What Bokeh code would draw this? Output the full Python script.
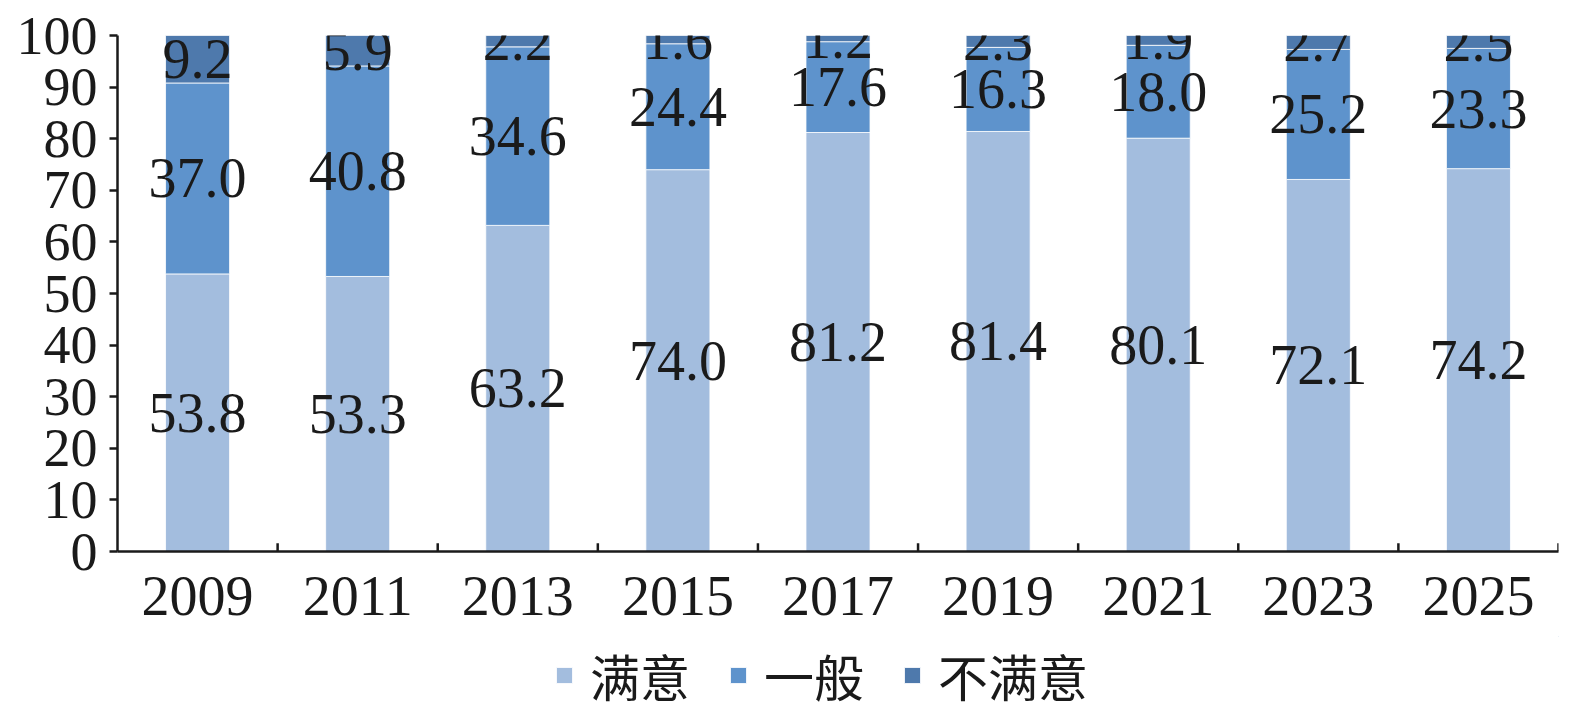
from bokeh.plotting import figure
from bokeh.layouts import column
from bokeh.models import ColumnDataSource, FactorRange, Range1d, Legend, LegendItem, FixedTicker
from bokeh.core.properties import value
from bokeh.embed import file_html
from bokeh.resources import INLINE

years = ['2009', '2011', '2013', '2015', '2017', '2019', '2021', '2023', '2025']
satisfied = [53.8, 53.3, 63.2, 74.0, 81.2, 81.4, 80.1, 72.1, 74.2]
neutral = [37.0, 40.8, 34.6, 24.4, 17.6, 16.3, 18.0, 25.2, 23.3]
dissatisfied = [9.2, 5.9, 2.2, 1.6, 1.2, 2.3, 1.9, 2.7, 2.5]
series_names = ['满意', '一般', '不满意']
colors = ['#A3BDDE', '#5E93CC', '#4E79AC']
y_ticks = [0, 10, 20, 30, 40, 50, 60, 70, 80, 90, 100]

src = ColumnDataSource(dict(x=years, s=satisfied, n=neutral, d=dissatisfied))

p = figure(x_range=FactorRange(factors=years, range_padding=0),
           y_range=Range1d(0, 100),
           frame_width=1441, frame_height=516,
           output_backend="svg", toolbar_location=None,
           min_border_left=117, min_border_right=10, min_border_top=35, min_border_bottom=85)

rs = p.vbar_stack(['s', 'n', 'd'], x='x', width=0.4, source=src,
                  color=colors, line_color='white', line_width=0.8)

# value labels centered in each segment
fnt = value("Liberation Serif")
xs, ys, ts = [], [], []
for i, yr in enumerate(years):
    base = 0.0
    for v in (satisfied[i], neutral[i], dissatisfied[i]):
        xs.append(yr)
        ys.append(base + v / 2.0)
        ts.append(f"{v:.1f}")
        base += v
p.text(x=xs, y=ys, text=ts, text_font=fnt, text_font_size="56px",
       text_align="center", text_baseline="middle", text_color="#1a1a1a")

# tick marks at category boundaries on x axis (pointing inward)
bx = [(yr, 0.5) for yr in years]
p.segment(x0=bx, y0=[0] * len(bx), x1=bx, y1=[1.6] * len(bx),
          line_color="#1a1a1a", line_width=2.5)

p.xgrid.visible = False
p.ygrid.visible = False
p.outline_line_color = None

for ax in (p.xaxis[0], p.yaxis[0]):
    ax.axis_line_color = "#1a1a1a"
    ax.axis_line_width = 2.5
    ax.major_label_text_font = "Liberation Serif"
    ax.major_label_text_color = "#1a1a1a"
    ax.minor_tick_line_color = None

p.xaxis.major_label_text_font_size = "56px"
p.yaxis.major_label_text_font_size = "54px"
p.xaxis.major_tick_line_color = None
p.xaxis.major_label_standoff = 19
p.yaxis.ticker = FixedTicker(ticks=y_ticks)
p.yaxis.major_tick_line_color = "#1a1a1a"
p.yaxis.major_tick_line_width = 2.5
p.yaxis.major_tick_out = 8
p.yaxis.major_tick_in = 0
p.yaxis.major_label_standoff = 12

# legend strip below the chart (legend-only renderers lie outside its visible range)
lf = figure(width=1568, height=76, x_range=Range1d(0, 1), y_range=Range1d(0, 1),
            output_backend="svg", toolbar_location=None,
            x_axis_location=None, y_axis_location=None,
            min_border_left=0, min_border_right=0, min_border_top=0, min_border_bottom=0)
lf.xgrid.visible = False
lf.ygrid.visible = False
lf.outline_line_color = None
lr = [lf.vbar(x=[10], top=[10], bottom=[9], width=0.4, color=c, line_color='white', line_width=0.8)
      for c in colors]

legend = Legend(items=[LegendItem(label=series_names[i], renderers=[lr[i]]) for i in range(3)],
                orientation="horizontal", location=(437, 1),
                label_text_font="Noto Sans CJK SC", label_text_font_size="50px",
                label_text_color="#1a1a1a",
                glyph_width=20, glyph_height=20, label_standoff=16, spacing=38,
                padding=0, margin=0, border_line_color=None, background_fill_alpha=0)
lf.add_layout(legend, "center")

layout = column(p, lf, spacing=0)
open("out.html", "w").write(file_html(layout, INLINE))
